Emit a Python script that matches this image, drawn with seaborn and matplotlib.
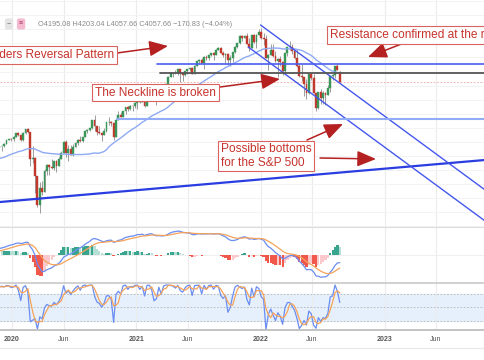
import numpy as np
import pandas as pd
import matplotlib.pyplot as plt
from matplotlib.lines import Line2D
import seaborn as sns

# S&P 500 weekly bars (bars dated on the Monday), from 2019-04-29 to 2022-08-22
first_week = '2019-04-29'
first_open = 2939.88
last_open = 4195.08

close_2019 = [2945.6, 2881.4, 2859.5, 2826.1, 2752.1, 2873.3, 2887.0, 2950.5, 2941.8, 2990.4,
              3013.8, 2976.6, 3025.9, 2932.1, 2918.7, 2888.7, 2847.1, 2926.5, 2978.7, 3007.4,
              2992.1, 2961.8, 2952.0, 2970.3, 2986.2, 3022.6, 3066.9, 3093.1, 3120.5, 3110.3,
              3141.0, 3145.9, 3168.8, 3221.2, 3240.0]
high_2019 = [2954, 2948, 2892, 2871, 2841, 2884, 2911, 2964, 2959, 2996, 3017, 3020, 3028, 3027,
             2943, 2943, 2939, 2940, 2986, 3021, 3022, 3002, 2983, 2993, 3008, 3027, 3067, 3097,
             3121, 3128, 3154, 3148, 3183, 3226, 3248]
low_2019 = [2900, 2825, 2801, 2805, 2750, 2729, 2870, 2878, 2912, 2940, 2967, 2975, 2975, 2914,
            2822, 2840, 2834, 2845, 2891, 2972, 2979, 2945, 2855, 2893, 2953, 2975, 3015, 3066,
            3078, 3091, 3108, 3070, 3124, 3166, 3220]

close_2020 = [3234.9, 3265.4, 3329.6, 3295.5, 3225.5, 3327.7, 3380.2, 3337.8, 2954.2, 2972.4,
              2711.0, 2304.9, 2541.5, 2488.7, 2789.8, 2874.6, 2836.7, 2830.7, 2929.8, 2863.7,
              2955.5, 3044.3, 3193.9, 3041.3, 3097.7, 3009.1, 3130.0, 3185.0, 3224.7, 3215.6,
              3271.1, 3351.3, 3372.9, 3397.2, 3508.0, 3427.0, 3341.0, 3319.5, 3298.5, 3348.4,
              3477.1, 3483.8, 3465.4, 3270.0, 3509.4, 3585.2, 3557.5, 3638.4, 3699.1, 3663.5,
              3709.4, 3703.1, 3756.1]
high_2020 = [3258, 3282, 3330, 3338, 3300, 3342, 3385, 3393, 3338, 3137, 2985, 2712, 2637, 2641,
             2819, 2880, 2880, 2955, 2933, 2945, 2980, 3068, 3211, 3233, 3156, 3155, 3166, 3198,
             3235, 3280, 3272, 3352, 3387, 3399, 3510, 3588, 3430, 3429, 3321, 3397, 3482, 3550,
             3502, 3466, 3521, 3646, 3629, 3645, 3701, 3712, 3726, 3711, 3760]
low_2020 = [3213, 3214, 3263, 3281, 3214, 3216, 3316, 3328, 2856, 2901, 2479, 2280, 2192, 2447,
            2488, 2727, 2727, 2817, 2797, 2766, 2860, 2950, 3038, 2984, 2934, 3007, 2999, 3128,
            3153, 3201, 3205, 3270, 3328, 3355, 3380, 3350, 3293, 3314, 3209, 3294, 3346, 3441,
            3428, 3234, 3267, 3508, 3550, 3556, 3594, 3633, 3647, 3636, 3687]

close_2021 = [3824.7, 3768.3, 3841.5, 3714.2, 3886.8, 3934.8, 3906.7, 3811.2, 3841.9, 3943.3,
              3913.1, 3974.5, 4019.9, 4128.8, 4185.5, 4180.2, 4181.2, 4232.6, 4173.9, 4155.9,
              4204.1, 4229.9, 4247.4, 4166.5, 4280.7, 4352.3, 4369.6, 4327.2, 4411.8, 4395.3,
              4436.5, 4468.0, 4441.7, 4509.4, 4535.4, 4458.6, 4433.0, 4455.5, 4357.0, 4391.3,
              4471.4, 4544.9, 4605.4, 4697.5, 4682.9, 4698.0, 4594.6, 4538.4, 4712.0, 4620.6,
              4725.8, 4766.2]
high_2021 = [3826, 3827, 3861, 3870, 3894, 3937, 3950, 3929, 3914, 3960, 3983, 3978, 4020, 4130,
             4191, 4194, 4218, 4237, 4238, 4187, 4214, 4234, 4249, 4262, 4287, 4356, 4372, 4393,
             4415, 4430, 4441, 4469, 4481, 4513, 4545, 4548, 4486, 4466, 4465, 4429, 4475, 4560,
             4608, 4718, 4714, 4718, 4744, 4672, 4713, 4731, 4740, 4808]
low_2021 = [3663, 3750, 3760, 3694, 3712, 3885, 3866, 3805, 3723, 3815, 3885, 3853, 3915, 4018,
            4118, 4117, 4170, 4157, 4057, 4062, 4142, 4167, 4203, 4165, 4164, 4272, 4300, 4321,
            4233, 4360, 4368, 4417, 4367, 4440, 4507, 4457, 4406, 4305, 4288, 4279, 4329, 4469,
            4537, 4595, 4630, 4672, 4585, 4495, 4531, 4600, 4531, 4722]

close_2022 = [4677.0, 4662.9, 4398.0, 4431.9, 4500.5, 4418.6, 4348.9, 4384.7, 4328.9, 4204.3,
              4463.1, 4543.1, 4545.9, 4488.3, 4392.6, 4271.8, 4131.9, 4123.3, 4023.9, 3901.4,
              4158.2, 4108.5, 3900.9, 3674.8, 3911.7, 3825.3, 3899.4, 3863.2, 3961.6, 4130.3,
              4145.2, 4280.2, 4228.5, 4057.66]
high_2022 = [4819, 4749, 4713, 4453, 4596, 4591, 4490, 4386, 4416, 4331, 4465, 4546, 4637, 4593,
             4500, 4513, 4309, 4307, 4125, 4091, 4160, 4178, 4165, 3901, 3913, 3950, 3918, 3904,
             4012, 4141, 4167, 4281, 4325, 4203.04]
low_2022 = [4662, 4582, 4395, 4223, 4431, 4402, 4330, 4115, 4279, 4157, 4161, 4424, 4507, 4450,
            4381, 4267, 4129, 4063, 3859, 3810, 3875, 4074, 3899, 3637, 3671, 3739, 3744, 3722,
            3860, 3910, 4079, 4112, 4218, 4057.66]

# lines drawn on the chart: (dates, prices)
support_line = (['2019-11-01', '2023-12-31'], [2335, 2972])
channel_top = (['2022-01-01', '2024-03-01'], [4861, 2057])
channel_bottom = (['2021-11-26', '2024-03-01'], [4548, 1616])
resistance = (['2021-03-03', '2024-06-01'], [4307, 4307])
neckline = (['2021-03-12', '2024-06-01'], [4179, 4179])
bottom_level = (['2020-11-05', '2024-06-01'], [3526, 3526])

header = 'O4195.08 H4203.04 L4057.66 C4057.66 −170.83 (−4.04%)'
tick_dates = ['2020-01-01', '2020-06-01', '2021-01-01', '2021-06-01',
              '2022-01-01', '2022-06-01', '2023-01-01', '2023-06-01']
tick_labels = ['2020', 'Jun', '2021', 'Jun', '2022', 'Jun', '2023', 'Jun']

closes = np.array(close_2019 + close_2020 + close_2021 + close_2022)
df = pd.DataFrame({
    'date': pd.date_range(first_week, periods=len(closes), freq='7D'),
    'open': np.r_[first_open, closes[:-1]],
    'high': high_2019 + high_2020 + high_2021 + high_2022,
    'low': low_2019 + low_2020 + low_2021 + low_2022,
    'close': closes,
})
df.loc[df.index[-1], 'open'] = last_open

# indicators
df['ma'] = df['close'].rolling(30).mean()
ema12 = df['close'].ewm(span=12, adjust=False).mean()
ema26 = df['close'].ewm(span=26, adjust=False).mean()
df['macd'] = ema12 - ema26
df['signal'] = df['macd'].ewm(span=9, adjust=False).mean()
df['hist'] = df['macd'] - df['signal']
lo14 = df['low'].rolling(14, min_periods=1).min()
hi14 = df['high'].rolling(14, min_periods=1).max()
df['k'] = 100 * (df['close'] - lo14) / (hi14 - lo14)
df['d'] = df['k'].rolling(3, min_periods=1).mean()

sns.set_theme(style='white')
plt.rcParams['font.family'] = ['Liberation Sans', 'DejaVu Sans']

W, H = 485, 360
fig = plt.figure(figsize=(W / 100, H / 100), dpi=100)


def fpos(x, y):
    return (x / W, 1 - y / H)


ax1 = fig.add_axes([0, 1 - 227 / H, 1, 227 / H])
ax2h = fig.add_axes([0, 1 - 283 / H, 1, 56 / H])
ax2 = fig.add_axes([0, 1 - 283 / H, 1, 56 / H], sharex=ax2h)
ax2.patch.set_visible(False)
ax3 = fig.add_axes([0, 1 - 330 / H, 1, 47 / H])

xmin, xmax = pd.Timestamp('2019-11-27'), pd.Timestamp('2023-10-23')
for ax in (ax1, ax2h, ax2, ax3):
    ax.set_xlim(xmin, xmax)
    ax.set_xticks(pd.to_datetime(tick_dates))
    ax.tick_params(length=0, labelleft=False, labelbottom=False)
    for s in ax.spines.values():
        s.set_visible(False)
for ax in (ax1, ax2h, ax3):
    ax.grid(axis='x', color='#ececec', lw=0.8)

# main pane
ax1.set_ylim(1991, 5216)
ax1.set_yticks(range(2000, 5300, 200))
ax1.grid(axis='y', color='#f3f3f3', lw=0.7)
up = df['close'] >= df['open']
candle_colors = np.where(up, '#3a9558', '#c0392b')
ax1.vlines(df['date'], df['low'], df['high'], colors='#8c8c8c', lw=0.6, zorder=2)
ax1.bar(df['date'], (df['close'] - df['open']).abs().clip(lower=5),
        bottom=np.minimum(df['open'], df['close']), width=5.5,
        color=candle_colors, edgecolor=candle_colors, lw=0.3, zorder=3)
sns.lineplot(data=df, x='date', y='ma', ax=ax1, color='#8eaaf3', lw=1.0, zorder=4)

ax1.axhline(df['close'].iloc[-1], color='#f3a3a3', lw=0.6, ls=(0, (2, 2)), zorder=1)
for (d, p), c, lw in [(support_line, '#2a3de0', 1.6), (channel_top, '#4457ee', 1.0),
                      (channel_bottom, '#4457ee', 1.0), (resistance, '#4a5ef0', 1.2),
                      (neckline, '#555555', 1.3), (bottom_level, '#93acf7', 1.5)]:
    ax1.plot(pd.to_datetime(d), p, color=c, lw=lw, zorder=5)
ax1.set_xlabel('')
ax1.set_ylabel('')

# MACD pane: histogram on its own scale behind the two lines
ax2h.spines['top'].set_visible(True)
ax2h.spines['top'].set_color('#dddddd')
ax2h.spines['top'].set_linewidth(0.8)
prev = df['hist'].shift(1)
hist_colors = np.where(df['hist'] >= 0,
                       np.where(df['hist'] > prev, '#3aa58f', '#b6e0d6'),
                       np.where(df['hist'] < prev, '#f0584c', '#fbc9cc'))
ax2h.bar(df['date'], df['hist'], width=6.6, color=hist_colors, lw=0)
vis = df[df['date'] >= xmin]
lim = vis['macd'].abs().max() * 28 / 24
ax2h.set_ylim(-lim / 1.5, lim / 1.5)
ax2h.axhline(0, color='#f0f0f0', lw=0.7, zorder=0)
sns.lineplot(data=df, x='date', y='macd', ax=ax2, color='#6a8df2', lw=0.9)
sns.lineplot(data=df, x='date', y='signal', ax=ax2, color='#f5a35a', lw=0.9)
ax2.set_ylim(-lim, lim)
ax2.set_xlim(xmin, xmax)
ax2.set_xlabel('')
ax2.set_ylabel('')

# Stochastic pane
ax3.spines['top'].set_visible(True)
ax3.spines['top'].set_color('#cccccc')
ax3.spines['bottom'].set_visible(True)
ax3.spines['bottom'].set_color('#bbbbbb')
ax3.set_ylim(0, 104.4)
ax3.axhspan(20, 80, color='#e6f0fc', zorder=0)
for lvl in (20, 50, 80):
    ax3.axhline(lvl, color='#b5b5b5', lw=0.6, ls=(0, (2, 2)), zorder=1)
sns.lineplot(data=df, x='date', y='k', ax=ax3, color='#6a8df2', lw=0.9)
sns.lineplot(data=df, x='date', y='d', ax=ax3, color='#f5a35a', lw=0.9)
ax3.set_xlim(xmin, xmax)
ax3.set_xlabel('')
ax3.set_ylabel('')
ax3.tick_params(labelbottom=True, pad=4)
ax3.set_xticklabels(tick_labels, fontsize=5, color='#555555')
for t in ax3.get_xticklabels():
    if t.get_text() != 'Jun':
        t.set_fontweight('bold')
fig.add_artist(Line2D([0, 1], [1 - 348 / H] * 2, color='#e8e8e8', lw=0.8))

# header
fig.text(*fpos(7, 24), '−', fontsize=5, color='#777777', va='center',
         bbox=dict(boxstyle='round,pad=0.3', fc='#e4e4e4', ec='none'))
fig.text(*fpos(19, 24), '≡', fontsize=5, color='#b04070', va='center',
         bbox=dict(boxstyle='round,pad=0.3', fc='#f4b9cf', ec='none'))
fig.text(*fpos(38, 24), header, fontsize=5.3, color='#8a8a8a', va='center')

# annotations
note_style = dict(fontsize=8.6, color='#c7332c', va='center',
                  bbox=dict(boxstyle='square,pad=0.22', fc='white', ec='#d9635e', lw=0.8))
fig.text(*fpos(114, 55), 'Head and Shoulders Reversal Pattern', ha='right', **note_style)
fig.text(*fpos(95, 92.5), 'The Neckline is broken', ha='left', **note_style)
fig.text(*fpos(330, 35), 'Resistance confirmed at the right shoulder', ha='left', **note_style)
fig.text(*fpos(221, 156), 'Possible bottoms\nfor the S&P 500', ha='left',
         linespacing=1.15, **note_style)

arrows = [((117, 53), (168, 46)), ((220, 87), (280, 79)), ((404, 43), (368, 57)),
          ((307, 140), (343, 124)), ((320, 158), (376, 159))]
for tail, tip in arrows:
    ax1.annotate('', xy=fpos(*tip), xytext=fpos(*tail),
                 xycoords='figure fraction', textcoords='figure fraction',
                 arrowprops=dict(arrowstyle='-|>,head_length=1.15,head_width=0.48',
                                 color='#b52020', lw=1.1, mutation_scale=10,
                                 shrinkA=0, shrinkB=0))

plt.savefig('out.png', dpi=100)
